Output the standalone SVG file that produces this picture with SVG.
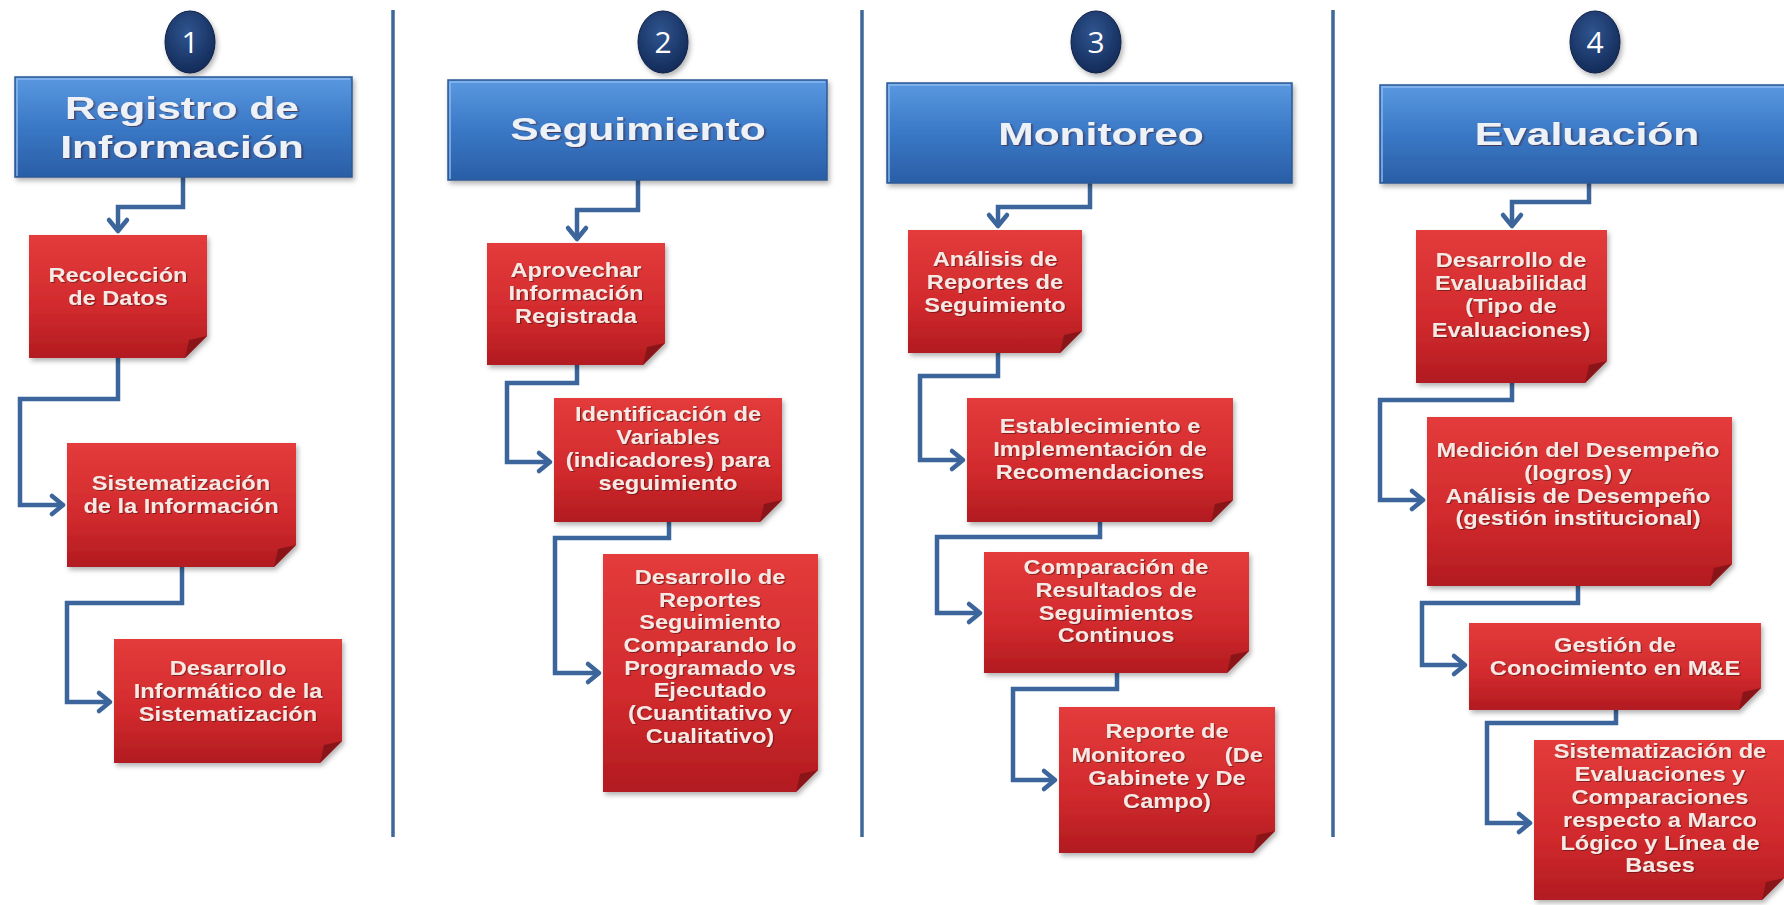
<svg xmlns="http://www.w3.org/2000/svg" width="1784" height="905" viewBox="0 0 1784 905">
<defs>
<linearGradient id="gBlue" x1="0" y1="0" x2="0" y2="1">
<stop offset="0" stop-color="#5a98e0"/>
<stop offset="0.5" stop-color="#3a78c6"/>
<stop offset="1" stop-color="#2a5ea6"/>
</linearGradient>
<linearGradient id="gRed" x1="0" y1="0" x2="0" y2="1">
<stop offset="0" stop-color="#e43b3b"/>
<stop offset="0.6" stop-color="#d12a2d"/>
<stop offset="1" stop-color="#b11b20"/>
</linearGradient>
<radialGradient id="gNav" cx="0.45" cy="0.35" r="0.7">
<stop offset="0" stop-color="#2f5590"/>
<stop offset="1" stop-color="#122855"/>
</radialGradient>
<filter id="sh" x="-10%" y="-10%" width="125%" height="125%">
<feDropShadow dx="2" dy="3" stdDeviation="2.5" flood-color="#000" flood-opacity="0.3"/>
</filter>
<filter id="tsh" x="-5%" y="-20%" width="110%" height="150%">
<feDropShadow dx="1" dy="1" stdDeviation="0.6" flood-color="#4a0a0a" flood-opacity="0.6"/>
</filter>
<marker id="arr" markerUnits="userSpaceOnUse" markerWidth="30" markerHeight="30" viewBox="-15 -15 30 30" refX="0" refY="0" orient="auto">
<path d="M-11,-9 L0,0 L-11,9" fill="none" stroke="#3b659b" stroke-width="4.5" stroke-linecap="round" stroke-linejoin="round"/>
</marker>
</defs>
<style>
.hdr{fill:url(#gBlue);stroke:#2b5a96;stroke-width:1.5;filter:url(#sh)}
.hl{fill:none;stroke:#8fbcf0;stroke-width:2;opacity:0.7}
.ttl{font-family:"Liberation Sans",Arial,sans-serif;font-weight:bold;font-size:32px;fill:#eef2f7;text-anchor:middle;filter:url(#tsh)}
.node{fill:url(#gRed);filter:url(#sh)}
.fold{fill:#8a1519}
.txt{font-family:"Liberation Sans",Arial,sans-serif;font-weight:bold;font-size:20px;fill:#f8e8e4;text-anchor:middle;filter:url(#tsh)}
.num{font-family:"Open Sans","Liberation Sans",sans-serif;font-size:30px;fill:#ffffff;text-anchor:middle}
.circ{fill:url(#gNav);stroke:#0e1f44;stroke-width:1;filter:url(#sh)}
.conn{fill:none;stroke:#3b659b;stroke-width:4.5;marker-end:url(#arr)}
.div{stroke:#3f6797;stroke-width:3.5}
</style>
<rect width="1784" height="905" fill="#ffffff"/>

<g id="dividers">
<line class="div" x1="393" y1="10" x2="393" y2="837"/>
<line class="div" x1="862" y1="10" x2="862" y2="837"/>
<line class="div" x1="1333" y1="10" x2="1333" y2="837"/>
</g>

<g id="connectors">
<path class="conn" d="M183,177 V207 H118 V231"/>
<path class="conn" d="M118,358 V399 H20 V505 H63"/>
<path class="conn" d="M182,567 V603 H67 V702 H110"/>
<path class="conn" d="M638,180 V210 H577 V239"/>
<path class="conn" d="M577,365 V383 H507 V462 H550"/>
<path class="conn" d="M669,522 V538 H555 V673 H599"/>
<path class="conn" d="M1090,183 V207 H998 V226"/>
<path class="conn" d="M998,353 V376 H920 V460 H963"/>
<path class="conn" d="M1100,522 V537 H937 V613 H980"/>
<path class="conn" d="M1117,673 V689 H1013 V780 H1055"/>
<path class="conn" d="M1589,183 V202 H1512 V226"/>
<path class="conn" d="M1512,383 V400 H1380 V500 H1423"/>
<path class="conn" d="M1578,586 V603 H1422 V665 H1465"/>
<path class="conn" d="M1616,710 V723 H1487 V823 H1530"/>
</g>

<g id="step1">
<ellipse class="circ" cx="190" cy="42" rx="25" ry="31"/>
<text class="num" x="190" y="53">1</text>
</g>
<g id="step2">
<ellipse class="circ" cx="663" cy="42" rx="25" ry="31"/>
<text class="num" x="663" y="53">2</text>
</g>
<g id="step3">
<ellipse class="circ" cx="1096" cy="42" rx="25" ry="31"/>
<text class="num" x="1096" y="53">3</text>
</g>
<g id="step4">
<ellipse class="circ" cx="1595" cy="42" rx="25" ry="31"/>
<text class="num" x="1595" y="53">4</text>
</g>

<g id="header1">
<rect class="hdr" x="15" y="77" width="337" height="100"/>
<path class="hl" d="M17,176 V79 H350"/>
<g transform="translate(182,0) scale(1.33,1)">
<text class="ttl" x="0" y="119">Registro de</text>
<text class="ttl" x="0" y="158">Información</text>
</g>
</g>
<g id="header2">
<rect class="hdr" x="448" y="80" width="379" height="100"/>
<path class="hl" d="M450,179 V82 H825"/>
<g transform="translate(638,0) scale(1.33,1)">
<text class="ttl" x="0" y="140">Seguimiento</text>
</g>
</g>
<g id="header3">
<rect class="hdr" x="887" y="83" width="405" height="100"/>
<path class="hl" d="M889,182 V85 H1290"/>
<g transform="translate(1101,0) scale(1.33,1)">
<text class="ttl" x="0" y="145">Monitoreo</text>
</g>
</g>
<g id="header4">
<rect class="hdr" x="1380" y="85" width="410" height="98"/>
<path class="hl" d="M1382,182 V87 H1790"/>
<g transform="translate(1587,0) scale(1.33,1)">
<text class="ttl" x="0" y="145">Evaluación</text>
</g>
</g>

<g id="n1a">
<path class="node" d="M29,235 H207 V336 L185,358 H29 Z"/>
<path class="fold" d="M207,336 L185,358 L189,340 Z"/>
<g transform="translate(118,0) scale(1.18,1)">
<text class="txt" x="0" y="282">Recolección</text>
<text class="txt" x="0" y="305">de Datos</text>
</g>
</g>
<g id="n1b">
<path class="node" d="M67,443 H296 V545 L274,567 H67 Z"/>
<path class="fold" d="M296,545 L274,567 L278,549 Z"/>
<g transform="translate(181,0) scale(1.18,1)">
<text class="txt" x="0" y="490">Sistematización</text>
<text class="txt" x="0" y="513">de la Información</text>
</g>
</g>
<g id="n1c">
<path class="node" d="M114,639 H342 V741 L320,763 H114 Z"/>
<path class="fold" d="M342,741 L320,763 L324,745 Z"/>
<g transform="translate(228,0) scale(1.18,1)">
<text class="txt" x="0" y="675">Desarrollo</text>
<text class="txt" x="0" y="698">Informático de la</text>
<text class="txt" x="0" y="721">Sistematización</text>
</g>
</g>

<g id="n2a">
<path class="node" d="M487,243 H665 V343 L643,365 H487 Z"/>
<path class="fold" d="M665,343 L643,365 L647,347 Z"/>
<g transform="translate(576,0) scale(1.18,1)">
<text class="txt" x="0" y="277">Aprovechar</text>
<text class="txt" x="0" y="300">Información</text>
<text class="txt" x="0" y="323">Registrada</text>
</g>
</g>
<g id="n2b">
<path class="node" d="M554,398 H782 V500 L760,522 H554 Z"/>
<path class="fold" d="M782,500 L760,522 L764,504 Z"/>
<g transform="translate(668,0) scale(1.18,1)">
<text class="txt" x="0" y="421">Identificación de</text>
<text class="txt" x="0" y="444">Variables</text>
<text class="txt" x="0" y="467">(indicadores) para</text>
<text class="txt" x="0" y="490">seguimiento</text>
</g>
</g>
<g id="n2c">
<path class="node" d="M603,554 H818 V770 L796,792 H603 Z"/>
<path class="fold" d="M818,770 L796,792 L800,774 Z"/>
<g transform="translate(710,0) scale(1.18,1)">
<text class="txt" x="0" y="584">Desarrollo de</text>
<text class="txt" x="0" y="607">Reportes</text>
<text class="txt" x="0" y="629">Seguimiento</text>
<text class="txt" x="0" y="652">Comparando lo</text>
<text class="txt" x="0" y="675">Programado vs</text>
<text class="txt" x="0" y="697">Ejecutado</text>
<text class="txt" x="0" y="720">(Cuantitativo y</text>
<text class="txt" x="0" y="743">Cualitativo)</text>
</g>
</g>

<g id="n3a">
<path class="node" d="M908,230 H1082 V331 L1060,353 H908 Z"/>
<path class="fold" d="M1082,331 L1060,353 L1064,335 Z"/>
<g transform="translate(995,0) scale(1.18,1)">
<text class="txt" x="0" y="266">Análisis de</text>
<text class="txt" x="0" y="289">Reportes de</text>
<text class="txt" x="0" y="312">Seguimiento</text>
</g>
</g>
<g id="n3b">
<path class="node" d="M967,398 H1233 V500 L1211,522 H967 Z"/>
<path class="fold" d="M1233,500 L1211,522 L1215,504 Z"/>
<g transform="translate(1100,0) scale(1.18,1)">
<text class="txt" x="0" y="433">Establecimiento e</text>
<text class="txt" x="0" y="456">Implementación  de</text>
<text class="txt" x="0" y="479">Recomendaciones</text>
</g>
</g>
<g id="n3c">
<path class="node" d="M984,552 H1249 V651 L1227,673 H984 Z"/>
<path class="fold" d="M1249,651 L1227,673 L1231,655 Z"/>
<g transform="translate(1116,0) scale(1.18,1)">
<text class="txt" x="0" y="574">Comparación de</text>
<text class="txt" x="0" y="597">Resultados de</text>
<text class="txt" x="0" y="620">Seguimientos</text>
<text class="txt" x="0" y="642">Continuos</text>
</g>
</g>
<g id="n3d">
<path class="node" d="M1059,707 H1275 V831 L1253,853 H1059 Z"/>
<path class="fold" d="M1275,831 L1253,853 L1257,835 Z"/>
<g transform="translate(1167,0) scale(1.18,1)">
<text class="txt" x="0" y="738">Reporte de</text>
<text class="txt" x="-81" y="762" style="text-anchor:start">Monitoreo</text>
<text class="txt" x="49" y="762" style="text-anchor:start">(De</text>
<text class="txt" x="0" y="785">Gabinete y De</text>
<text class="txt" x="0" y="808">Campo)</text>
</g>
</g>

<g id="n4a">
<path class="node" d="M1416,230 H1607 V361 L1585,383 H1416 Z"/>
<path class="fold" d="M1607,361 L1585,383 L1589,365 Z"/>
<g transform="translate(1511,0) scale(1.18,1)">
<text class="txt" x="0" y="267">Desarrollo de</text>
<text class="txt" x="0" y="290">Evaluabilidad</text>
<text class="txt" x="0" y="313">(Tipo de</text>
<text class="txt" x="0" y="337">Evaluaciones)</text>
</g>
</g>
<g id="n4b">
<path class="node" d="M1427,417 H1732 V564 L1710,586 H1427 Z"/>
<path class="fold" d="M1732,564 L1710,586 L1714,568 Z"/>
<g transform="translate(1578,0) scale(1.18,1)">
<text class="txt" x="0" y="457">Medición del Desempeño</text>
<text class="txt" x="0" y="480">(logros) y</text>
<text class="txt" x="0" y="503">Análisis de Desempeño</text>
<text class="txt" x="0" y="525">(gestión institucional)</text>
</g>
</g>
<g id="n4c">
<path class="node" d="M1469,623 H1761 V688 L1739,710 H1469 Z"/>
<path class="fold" d="M1761,688 L1739,710 L1743,692 Z"/>
<g transform="translate(1615,0) scale(1.18,1)">
<text class="txt" x="0" y="652">Gestión de</text>
<text class="txt" x="0" y="675">Conocimiento en M&amp;E</text>
</g>
</g>
<g id="n4d">
<path class="node" d="M1534,740 H1784 V878 L1762,900 H1534 Z"/>
<path class="fold" d="M1784,878 L1762,900 L1766,882 Z"/>
<g transform="translate(1660,0) scale(1.18,1)">
<text class="txt" x="0" y="758">Sistematización de</text>
<text class="txt" x="0" y="781">Evaluaciones y</text>
<text class="txt" x="0" y="804">Comparaciones</text>
<text class="txt" x="0" y="827">respecto a Marco</text>
<text class="txt" x="0" y="850">Lógico y Línea de</text>
<text class="txt" x="0" y="872">Bases</text>
</g>
</g>
</svg>
